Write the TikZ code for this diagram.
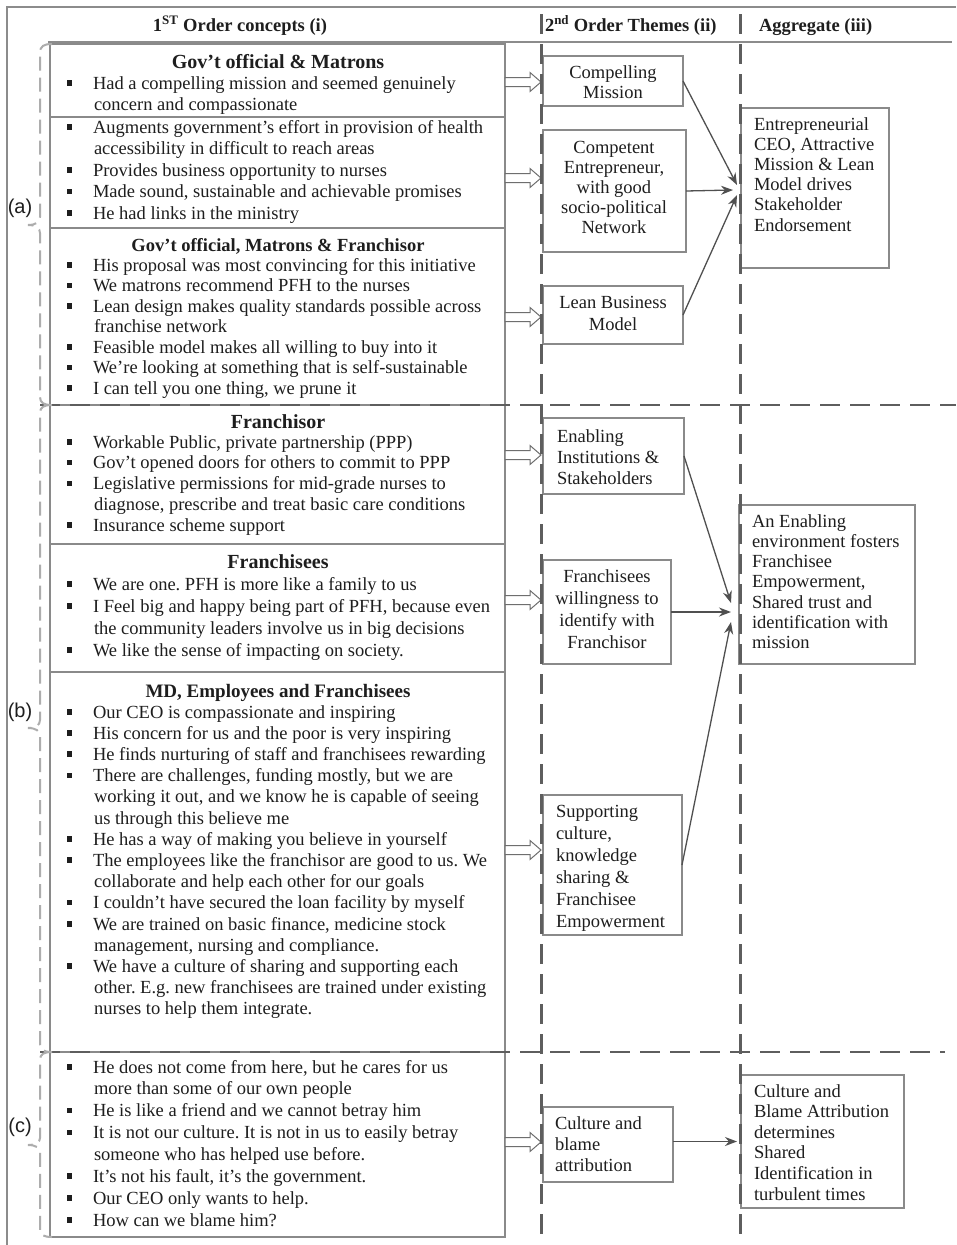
\documentclass[tikz,border=0pt]{standalone}
\usepackage{fontspec}
\setmainfont{Liberation Serif}
\newfontfamily\labfont{Liberation Sans}
\usetikzlibrary{arrows.meta,calc}
\frenchspacing
\definecolor{txtc}{HTML}{1E1E1E}
\definecolor{boxc}{HTML}{8A8A8A}
\definecolor{dashc}{HTML}{5E5E5E}
\definecolor{bracec}{HTML}{ADADAD}
\definecolor{arrc}{HTML}{505050}
\definecolor{framec}{HTML}{8C8C8C}
\newcommand{\bul}{\makebox[27pt][l]{\hspace*{1pt}\rule[3.5pt]{5.5pt}{5.5pt}}}
\newcommand{\ind}{\hspace*{28pt}}
\newcommand{\lblk}[2]{\vtop{\hsize=500pt\parindent=0pt\frenchspacing\fontsize{18.5}{#1}\selectfont\raggedright #2\par}}
\newcommand{\cblk}[3]{\vtop{\hsize=#1\parindent=0pt\frenchspacing\fontsize{18.5}{#2}\selectfont\centering #3\par}}
\newcommand{\hollowarr}[3]{\draw[hollowst] (#1.east |- 0,#3) ++(0,-4.5) -- ($(#2.west |- 0,#3)+(-13,-4.5)$) -- ++(0,-5) -- ($(#2.west |- 0,#3)+(-2,0)$) -- ($(#2.west |- 0,#3)+(-13,9.5)$) -- ++(0,-5) -- ($(#1.east |- 0,#3)+(0,4.5)$) -- cycle;}
\tikzset{
 lbox/.style={draw=boxc, line width=1.3pt, fill=white, anchor=north west, inner sep=0pt, outer sep=0pt},
 txt/.style={inner sep=0pt, outer sep=0pt, text=txtc},
 ttl/.style={txt, anchor=base, font=\fontsize{20}{24}\selectfont\bfseries},
 hdr/.style={txt, anchor=base, font=\fontsize{18.5}{22}\selectfont\bfseries},
 arr/.style={draw=arrc, line width=1.3pt, -{Stealth[length=12pt,width=9pt]}},
 hollowst/.style={draw=boxc!80!black, line width=1pt, fill=white},
 vdash/.style={draw=dashc, line width=2.8pt, dash pattern=on 20pt off 10pt},
 bracest/.style={draw=bracec, line width=2pt, dash pattern=on 14pt off 7pt},
 lab/.style={txt, font=\labfont\fontsize{20}{24}\selectfont}
}
\begin{document}
\begin{tikzpicture}[x=1pt,y=-1pt]
\useasboundingbox (0,0) rectangle (956,1245);
\fill[white] (0,0) rectangle (956,1245);
% frame and header rule
\draw[framec, line width=1.2pt] (7,1245) -- (7,7) -- (956,7);
\draw[framec, line width=1.2pt] (48,42) -- (952,42);
% headers
\node[hdr] (H1) at (240,31) {1\textsuperscript{ST} Order concepts (i)};
\node[hdr, anchor=base west] (H2) at (545,31) {2\textsuperscript{nd} Order Themes (ii)};
\node[hdr, anchor=base west] (H3) at (759,31) {Aggregate (iii)};
% left boxes
\node[lbox, minimum width=455pt, minimum height=73pt] (L1) at (50,44) {};
\node[lbox, minimum width=455pt, minimum height=111pt] (L2) at (50,117) {};
\node[lbox, minimum width=455pt, minimum height=177pt] (L3) at (50,228) {};
\node[lbox, minimum width=455pt, minimum height=139pt] (L4) at (50,405) {};
\node[lbox, minimum width=455pt, minimum height=128pt] (L5) at (50,544) {};
\node[lbox, minimum width=455pt, minimum height=380pt] (L6) at (50,672) {};
\node[lbox, minimum width=455pt, minimum height=185pt] (L7) at (50,1052) {};
% middle boxes
\node[lbox, minimum width=140pt, minimum height=50pt] (M1) at (543,56) {};
\node[lbox, minimum width=143pt, minimum height=122pt] (M2) at (543,130) {};
\node[lbox, minimum width=140pt, minimum height=58pt] (M3) at (543,286) {};
\node[lbox, minimum width=141pt, minimum height=76pt] (M4) at (543,418) {};
\node[lbox, minimum width=128pt, minimum height=104pt] (M5) at (543,560) {};
\node[lbox, minimum width=139pt, minimum height=140pt] (M6) at (543,795) {};
\node[lbox, minimum width=130pt, minimum height=75pt] (M7) at (543,1107) {};
% aggregate boxes
\node[lbox, minimum width=148pt, minimum height=160pt] (A1) at (741,108) {};
\node[lbox, minimum width=176pt, minimum height=159pt] (A2) at (739,505) {};
\node[lbox, minimum width=163pt, minimum height=133pt] (A3) at (741,1075) {};
% left texts
\node[ttl] (T1) at (278,68) {Gov’t official \& Matrons};
\node[txt, anchor=base west] (B1) at (66,89) {\lblk{21}{\bul Had a compelling mission and seemed genuinely\\ \ind concern and compassionate}};
\node[txt, anchor=base west] (B2) at (66,133) {\lblk{21.5}{\bul Augments government’s effort in provision of health\\ \ind accessibility in difficult to reach areas\\ \bul Provides business opportunity to nurses\\ \bul Made sound, sustainable and achievable promises\\ \bul He had links in the ministry}};
\node[ttl, font=\fontsize{18.5}{22}\selectfont\bfseries] (T3) at (278,251) {Gov’t official, Matrons \& Franchisor};
\node[txt, anchor=base west] (B3) at (66,271) {\lblk{20.5}{\bul His proposal was most convincing for this initiative\\ \bul We matrons recommend PFH to the nurses\\ \bul Lean design makes quality standards possible across\\ \ind franchise network\\ \bul Feasible model makes all willing to buy into it\\ \bul We’re looking at something that is self-sustainable\\ \bul I can tell you one thing, we prune it}};
\node[ttl] (T4) at (278,428) {Franchisor};
\node[txt, anchor=base west] (B4) at (66,448) {\lblk{20.75}{\bul Workable Public, private partnership (PPP)\\ \bul Gov’t opened doors for others to commit to PPP\\ \bul Legislative permissions for mid-grade nurses to\\ \ind diagnose, prescribe and treat basic care conditions\\ \bul Insurance scheme support}};
\node[ttl] (T5) at (278,568) {Franchisees};
\node[txt, anchor=base west] (B5) at (66,590) {\lblk{22}{\bul We are one. PFH is more like a family to us\\ \bul I Feel big and happy being part of PFH, because even\\ \ind the community leaders involve us in big decisions\\ \bul We like the sense of impacting on society.}};
\node[ttl, font=\fontsize{19}{23}\selectfont\bfseries] (T6) at (278,697) {MD, Employees and Franchisees};
\node[txt, anchor=base west] (B6) at (66,718) {\lblk{21.2}{\bul Our CEO is compassionate and inspiring\\ \bul His concern for us and the poor is very inspiring\\ \bul He finds nurturing of staff and franchisees rewarding\\ \bul There are challenges, funding mostly, but we are\\ \ind working it out, and we know he is capable of seeing\\ \ind us through this believe me\\ \bul He has a way of making you believe in yourself\\ \bul The employees like the franchisor are good to us. We\\ \ind collaborate and help each other for our goals\\ \bul I couldn’t have secured the loan facility by myself\\ \bul We are trained on basic finance, medicine stock\\ \ind management, nursing and compliance.\\ \bul We have a culture of sharing and supporting each\\ \ind other. E.g. new franchisees are trained under existing\\ \ind nurses to help them integrate.}};
\node[txt, anchor=base west] (B7) at (66,1073) {\lblk{21.86}{\bul He does not come from here, but he cares for us\\ \ind more than some of our own people\\ \bul He is like a friend and we cannot betray him\\ \bul It is not our culture. It is not in us to easily betray\\ \ind someone who has helped use before.\\ \bul It’s not his fault, it’s the government.\\ \bul Our CEO only wants to help.\\ \bul How can we blame him?}};
% middle texts
\node[txt, anchor=base] (t1) at (613,78) {\cblk{150pt}{20}{Compelling\\Mission}};
\node[txt, anchor=base] (t2) at (614,153) {\cblk{150pt}{20}{Competent\\Entrepreneur,\\with good\\socio-political\\Network}};
\node[txt, anchor=base] (t3) at (613,308) {\cblk{150pt}{22}{Lean Business\\Model}};
\node[txt, anchor=base west] (t4) at (557,442) {\lblk{21}{Enabling\\Institutions \&\\Stakeholders}};
\node[txt, anchor=base] (t5) at (607,582) {\cblk{150pt}{22}{Franchisees\\willingness to\\identify with\\Franchisor}};
\node[txt, anchor=base west] (t6) at (556,817) {\lblk{22}{Supporting\\culture,\\knowledge\\sharing \&\\Franchisee\\Empowerment}};
\node[txt, anchor=base west] (t7) at (555,1129) {\lblk{21}{Culture and\\blame\\attribution}};
% aggregate texts
\node[txt, anchor=base west] (a1) at (754,130) {\lblk{20.2}{Entrepreneurial\\CEO, Attractive\\Mission \& Lean\\Model drives\\Stakeholder\\Endorsement}};
\node[txt, anchor=base west] (a2) at (752,527) {\lblk{20.3}{An Enabling\\environment fosters\\Franchisee\\Empowerment,\\Shared trust and\\identification with\\mission}};
\node[txt, anchor=base west] (a3) at (754,1097) {\lblk{20.6}{Culture and\\Blame Attribution\\determines\\Shared\\Identification in\\turbulent times}};
% hollow arrows
\hollowarr{L1}{M1}{82}
\hollowarr{L2}{M2}{178}
\hollowarr{L3}{M3}{317}
\hollowarr{L4}{M4}{455}
\hollowarr{L5}{M5}{600}
\hollowarr{L6}{M6}{850}
\hollowarr{L7}{M7}{1142}
% dashed dividers
\draw[vdash] (541.5,14) -- (541.5,1242);
\draw[vdash] (740.5,14) -- (740.5,1242);
\draw[vdash] (40,405) -- (956,405);
\draw[vdash] (40,1052) -- (945,1052);
% braces
\draw[bracest] (52,44) .. controls (44,44) and (40,46) .. (40,53) -- (40,217) .. controls (40,222) and (36,225) .. (28,225) .. controls (36,225) and (40,228) .. (40,233) -- (40,397) .. controls (40,403) and (44,405) .. (52,405);
\draw[bracest] (52,405) .. controls (44,405) and (40,407) .. (40,413) -- (40,720) .. controls (40,725) and (36,728) .. (28,728) .. controls (36,728) and (40,731) .. (40,736) -- (40,1044) .. controls (40,1050) and (44,1052) .. (52,1052);
\draw[bracest] (52,1052) .. controls (44,1052) and (40,1054) .. (40,1060) -- (40,1138) .. controls (40,1142) and (36,1145) .. (28,1145) .. controls (36,1145) and (40,1148) .. (40,1152) -- (40,1230) .. controls (40,1235) and (44,1237) .. (52,1237);
\node[lab] (la) at (20,208) {(a)};
\node[lab] (lb) at (20,712) {(b)};
\node[lab] (lc) at (20,1127) {(c)};
% arrows
\draw[arr] (M1.east) -- ($(A1.west)+(-4,-3)$);
\draw[arr] (M2.east) -- ($(A1.west)+(-8,2)$);
\draw[arr] (M3.east) -- ($(A1.west)+(-4,7)$);
\draw[arr] (M4.east) -- ($(A2.west)+(-8,18.5)$);
\draw[arr] (M5.east) -- ($(A2.west)+(-8,27.5)$);
\draw[arr] (M6.east) -- ($(A2.west)+(-8,37.5)$);
\draw[arr] (M7.east |- A3.west) -- ($(A3.west)+(-4,0)$);
\end{tikzpicture}
\end{document}
